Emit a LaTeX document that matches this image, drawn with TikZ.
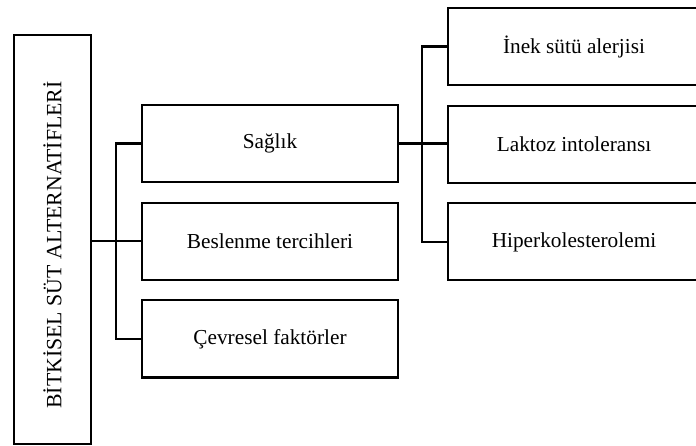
\documentclass[tikz,border=0pt]{standalone}
\usepackage{fontspec}
\setmainfont{Liberation Serif}
\usepackage{graphicx}
\usepackage{tikz}
\usetikzlibrary{positioning}

\tikzset{
  catbox/.style={draw, line width=2.2pt, minimum width=256pt, minimum height=77pt, inner sep=0pt, font=\fontsize{21.3}{25}\selectfont},
  subbox/.style={catbox, minimum width=252pt},
  link/.style={line width=2.2pt}
}

\begin{document}
\begin{tikzpicture}[x=1pt, y=-1pt, node distance=18.5pt]
    \path[use as bounding box] (0,0) rectangle (696,446);
    \node[draw, line width=2.2pt, minimum width=77pt, minimum height=409pt, inner sep=0pt] (root) at (52.5,239.5)
      {\rotatebox{90}{\fontsize{21.8}{25}\selectfont BİTKİSEL SÜT ALTERNATİFLERİ\hspace{11pt}}};
    \node[catbox] (saglik) at (270,143.5) {Sağlık};
    \node[catbox, below=of saglik] (beslenme) {Beslenme tercihleri};
    \node[catbox, below=of beslenme] (cevresel) {Çevresel faktörler};
    \node[subbox] (inek) at (574,46.5) {İnek sütü alerjisi};
    \node[subbox, below=of inek] (laktoz) {Laktoz intoleransı};
    \node[subbox, below=of laktoz] (hiper) {Hiperkolesterolemi};
    \draw[link] (root.east |- beslenme.west) -- (beslenme.west);
    \draw[link] (saglik.west) -- ++(-25,0) |- (cevresel.west);
    \draw[link] (saglik.east) -- (saglik.east -| laktoz.west);
    \draw[link] (inek.west) -- ++(-25,0) |- (hiper.west);
  \end{tikzpicture}
\end{document}
